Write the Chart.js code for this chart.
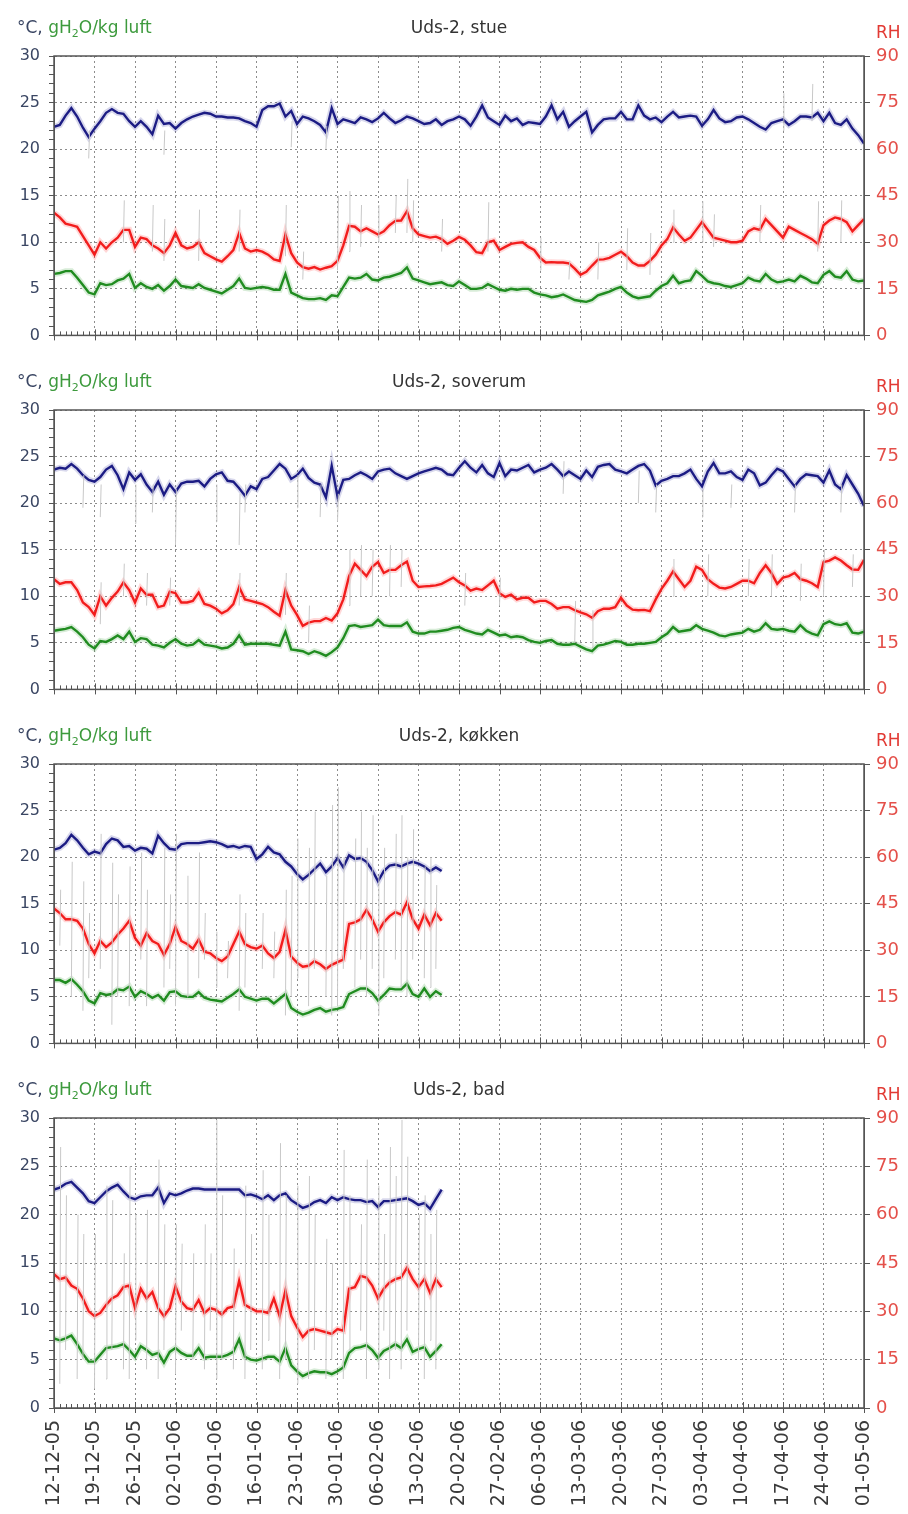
<!DOCTYPE html>
<html>
<head>
<meta charset="utf-8">
<script src="https://cdn.jsdelivr.net/npm/chart.js@4.4.1/dist/chart.umd.min.js"></script>
<style>
  body { margin: 0; background: #fff; }
  #wrap { position: relative; width: 908px; height: 1514px; }
  canvas { position: absolute; left: 0; }
</style>
</head>
<body>
<div id="wrap">
  <canvas id="c0" width="908" height="354" style="top:0px"></canvas>
  <canvas id="c1" width="908" height="354" style="top:354px"></canvas>
  <canvas id="c2" width="908" height="354" style="top:708px"></canvas>
  <canvas id="c3" width="908" height="452" style="top:1062px"></canvas>
</div>
<script>
// ugentlige datoer på x-aksen (dag 0 = 12-12-05, dag 140 = 01-05-06)
const datoer = ['12-12-05','19-12-05','26-12-05','02-01-06','09-01-06','16-01-06','23-01-06',
  '30-01-06','06-02-06','13-02-06','20-02-06','27-02-06','06-03-06','13-03-06','20-03-06',
  '27-03-06','03-04-06','10-04-06','17-04-06','24-04-06','01-05-06'];

// døgnværdier (udglattet) pr. rum: temperatur °C, RH %, vandindhold g/kg
const stueTemp = [22.4,22.6,23.6,24.4,23.5,22.3,21.3,22.2,23.0,23.9, 24.3,23.9,23.8,23.0,22.4,23.0,22.4,21.6,23.6,22.7,
  22.8,22.2,22.8,23.2,23.5,23.7,23.9,23.8,23.5,23.5, 23.4,23.4,23.3,23.0,22.8,22.4,24.2,24.6,24.6,24.9,
  23.5,24.1,22.7,23.5,23.3,23.0,22.6,21.8,24.4,22.7, 23.2,23.0,22.8,23.4,23.2,22.9,23.3,23.9,23.3,22.8,
  23.1,23.5,23.3,23.0,22.7,22.8,23.2,22.6,23.0,23.2, 23.5,23.2,22.5,23.5,24.7,23.4,23.0,22.6,23.6,23.0,
  23.3,22.6,22.9,22.8,22.7,23.5,24.7,23.2,24.0,22.4, 23.0,23.5,24.0,21.8,22.6,23.2,23.3,23.3,24.0,23.2,
  23.2,24.7,23.6,23.2,23.4,22.9,23.5,24.0,23.4,23.5, 23.6,23.5,22.5,23.2,24.2,23.3,22.9,23.0,23.4,23.5,
  23.2,22.8,22.4,22.1,22.8,23.0,23.2,22.6,23.0,23.5, 23.5,23.4,23.9,23.0,23.9,22.8,22.6,23.2,22.2,21.5,
  20.6];
const stueRH = [39.5,38,36,35.5,35,32,29,26,30,28, 30,31.5,34,34,28.5,31.5,31,29,28,26.5,
  29,33,29,28,28.5,30,26.5,25.5,24.5,23.8, 25.5,27.5,33,28,27,27.5,27,26,24.5,24,
  32.5,26.5,23.5,22,21.5,22,21.2,21.8,22.3,24, 29,35.3,35,33.5,34.5,33.5,32.5,33.5,35.5,36.9,
  37,40,34.5,32.5,32,31.5,31.8,31,29.5,30.5, 31.7,30.8,29,26.8,26.5,30,30.5,27.5,28.5,29.5,
  29.8,30,28.5,27.5,25,23.5,23.6,23.5,23.5,23.2, 21.5,19.5,20.5,22.5,24.4,24.5,25,26,27,25.5,
  23.5,22.5,22.5,24,26,29,31,34.8,32.5,30.5, 31.5,34,36.5,34,31.5,31,30.5,30,30,30.5,
  33.5,34.5,34,37.5,35.5,33.5,31.5,35,34,33, 32,31,29.5,35.5,37,38,37.5,36.5,33.5,35.5,
  37.5];
const stueAbs = [6.6,6.7,6.9,6.9,6.2,5.4,4.6,4.4,5.6,5.4, 5.5,5.9,6.1,6.6,5.1,5.6,5.2,5.0,5.4,4.8,
  5.3,6.0,5.3,5.2,5.1,5.5,5.1,4.9,4.7,4.5, 4.9,5.3,6.1,5.1,5.0,5.1,5.2,5.1,4.9,4.9,
  6.6,4.6,4.3,4.0,3.9,3.9,4.0,3.8,4.3,4.2, 5.2,6.2,6.1,6.2,6.6,6.0,5.9,6.2,6.3,6.5,
  6.7,7.3,6.1,5.9,5.7,5.5,5.6,5.7,5.4,5.3, 5.8,5.4,5.0,5.0,5.1,5.5,5.2,4.9,4.8,5.0,
  4.9,5.0,5.0,4.6,4.4,4.3,4.1,4.2,4.4,4.1, 3.8,3.7,3.6,3.8,4.3,4.5,4.7,5.0,5.2,4.6,
  4.2,4.0,4.1,4.2,4.8,5.3,5.6,6.4,5.6,5.8, 5.9,6.9,6.4,5.8,5.6,5.5,5.3,5.2,5.4,5.6,
  6.2,5.9,5.8,6.6,6.0,5.7,5.8,6.0,5.8,6.4, 6.1,5.7,5.6,6.5,6.9,6.3,6.2,6.9,6.0,5.8,
  5.9];
// rå timeværdier: enkelte udsving [dag, laveste, højeste] på venstre akse
const stueRaa = [[6,19,22],[12,10,14.5],[17,9,14],[19,19.4,22],[19,8,12.5],[25,8,13.5],[32,9,13.5],
  [40,8.5,14],[41,20.2,23],[43,6,9],[47,20,22.5],[49,7,15],[51,9,15.5],[53,9.5,14],[56,10,14],
  [59,11,15],[61,11,16.8],[62,10,14.5],[67,9,12.5],[75,9,14.3],[84,7,10.5],[89,6,8],[94,6,10],
  [99,7,11.5],[103,6.5,11],[107,10,13.5],[112,10,14.4],[114,9.5,13],[122,10,14],[126,22,26],
  [131,23,27],[132,9,14.4],[136,10,14.5]];

const soverumTemp = [23.6,23.8,23.7,24.2,23.7,23.0,22.5,22.3,22.8,23.6, 24.0,23.0,21.5,23.3,22.5,23.1,22.0,21.2,22.3,20.9,
  22.0,21.2,22.1,22.3,22.3,22.4,21.8,22.6,23.1,23.3, 22.4,22.3,21.6,20.8,21.8,21.5,22.6,22.8,23.5,24.2,
  23.7,22.6,23.0,23.7,22.7,22.2,22.0,20.6,24.0,20.7, 22.5,22.6,23.0,23.3,23.0,22.6,23.4,23.6,23.7,23.2,
  22.9,22.6,22.9,23.2,23.4,23.6,23.8,23.6,23.1,23.0, 23.8,24.5,23.8,23.3,24.1,23.2,22.8,24.3,22.9,23.6,
  23.5,23.8,24.1,23.3,23.6,23.8,24.2,23.6,22.9,23.4, 23.0,22.6,23.5,22.8,23.9,24.1,24.2,23.6,23.4,23.2,
  23.6,24.0,24.2,23.5,21.9,22.4,22.6,22.9,22.9,23.2, 23.6,22.6,21.8,23.4,24.3,23.2,23.2,23.4,22.8,22.5,
  23.6,23.2,21.9,22.2,23.0,23.7,23.4,22.6,21.8,22.6, 23.1,23.0,22.9,22.2,23.5,22.0,21.5,23.0,22.0,21.0,
  19.7];
const soverumRH = [35.5,34,34.5,34.5,32,28,26.5,24,30,27, 29.5,31.5,34.5,32,28,32.5,30.5,30.5,26.5,27,
  31.5,31,28,28,28.5,31.2,27.5,27,26,24.5, 25.5,27.5,33,29,28.5,28,27.5,26.5,25,23.7,
  32,27,24,20.5,21.5,22,22,23,22.2,24.5, 29,36.5,40.5,38.5,36.5,39.5,41,37.5,38.5,38.5,
  40,41.2,35,33,33.2,33.3,33.5,34,35,36, 34.5,33.5,31.8,32.5,32,33.5,35,31,29.8,30.5,
  29,29.5,29.5,28,28.5,28.5,27.5,26,26.5,26.5, 25.5,24.8,24.2,23.1,25.2,26,26,26.5,29.5,27,
  25.7,25.5,25.6,25.2,29,32.4,35,38,35.5,33, 35,39.5,38.5,35.5,34,32.8,32.5,33,34,35,
  35,34.2,37.5,40,37.5,34,36,36.5,37.5,35.5, 35,34.2,33,41,41.5,42.5,41.5,40,38.6,38.5,
  41.7];
const soverumAbs = [6.3,6.4,6.5,6.7,6.2,5.6,4.8,4.4,5.2,5.1, 5.4,5.8,5.4,6.2,5.1,5.5,5.4,4.8,4.7,4.5,
  5.0,5.4,4.9,4.7,4.8,5.3,4.8,4.7,4.6,4.4, 4.5,4.9,5.8,4.8,4.9,4.9,4.9,4.9,4.8,4.7,
  6.2,4.3,4.2,4.1,3.8,4.1,3.9,3.6,4.0,4.5, 5.5,6.8,6.9,6.7,6.8,6.9,7.5,6.9,6.8,6.8,
  6.8,7.2,6.2,6.0,6.0,6.2,6.2,6.3,6.4,6.6, 6.7,6.4,6.2,6.0,5.9,6.4,6.1,5.8,5.9,5.6,
  5.7,5.6,5.3,5.1,5.0,5.2,5.3,4.9,4.8,4.8, 4.9,4.6,4.3,4.1,4.7,4.8,5.0,5.2,5.1,4.8,
  4.8,4.9,4.9,5.0,5.1,5.6,6.0,6.7,6.2,6.3, 6.4,6.9,6.5,6.3,6.1,5.8,5.7,5.9,6.0,6.1,
  6.5,6.2,6.4,7.1,6.5,6.4,6.5,6.3,6.2,6.9, 6.3,6.0,5.8,7.0,7.3,7.0,6.9,7.1,6.1,6.0,
  6.2];
const soverumRaa = [[5,19.5,23],[8,18.5,22],[14,17.8,22],[17,19,22],[21,15.5,21.5],[28,18,22],
  [32,15.5,21],[33,19,22],[42,19.5,23],[46,18.5,22],[49,18,21],[8,7,11.5],[12,10,13.5],[16,9,12.5],
  [20,9,12],[32,9,12.5],[40,8,12.5],[44,5,9],[51,9,15],[53,10,15.5],[55,10,15],[58,10,15.5],
  [60,11,15],[71,9,12.5],[77,9,12],[88,21,24.5],[90,5,9.5],[93,4.5,8.5],[101,20,23.5],[104,19,22],
  [107,10,14],[112,18.5,21.5],[113,10,14.5],[117,19.5,22],[120,10,14],[124,10,14.5],[128,19,22],
  [129,9.5,13.5],[133,10,15],[136,19,22],[138,11,14.5],[140,15,20]];

const kokkenTemp = [20.8,21.0,21.5,22.4,21.8,21.0,20.3,20.6,20.4,21.4, 22.0,21.8,21.1,21.2,20.7,21.0,20.9,20.4,22.3,21.5,
  20.9,20.8,21.4,21.5,21.5,21.5,21.6,21.7,21.6,21.4, 21.1,21.2,21.0,21.2,21.1,19.8,20.3,21.1,20.5,20.3,
  19.5,19.0,18.2,17.6,18.1,18.7,19.3,18.4,19.0,19.9, 18.9,20.2,19.8,19.9,19.5,18.6,17.4,18.5,19.1,19.2,
  19.0,19.3,19.5,19.3,19.0,18.5,18.9,18.5];
const kokkenRH = [43.5,42,40,40,39.5,37,32,29,33,31, 32.5,35,37,39.5,34,31.5,35.5,33,32,28.5,
  32,37.5,33,32,30.5,33.5,29.5,29,27.5,26.5, 28,32,36,32,31,30.5,31.5,29,27.5,29.5,
  36.5,28,26,24.7,25,26.5,25.5,24,25.3,26.2, 27,38.5,39,40,43,40,36,39,41,42.3,
  41.5,45.5,40,37,41.5,38,42,39.5];
const kokkenAbs = [6.8,6.8,6.5,6.9,6.3,5.6,4.6,4.3,5.4,5.2, 5.3,5.8,5.7,6.1,5.0,5.6,5.3,4.9,5.2,4.6,
  5.5,5.6,5.1,5.0,5.0,5.5,4.9,4.7,4.6,4.5, 4.9,5.3,5.8,5.0,4.8,4.6,4.8,4.8,4.3,4.8,
  5.3,3.8,3.4,3.1,3.3,3.6,3.8,3.4,3.6,3.7, 3.9,5.3,5.6,5.9,5.9,5.4,4.6,5.2,5.9,5.8,
  5.8,6.4,5.3,5.0,5.9,5.0,5.6,5.2];
const kokkenRaa = [[1,10.5,16.5],[3,5,19.5],[5,3.5,17.4],[6,7,14],[8,8,22.5],[10,2,19.4],[11,5,16],
  [13,4,19],[15,9,20.5],[16,4,16.5],[19,6,21],[20,8,16],[21,4,22.5],[23,5,18],[25,7,20.5],[26,9,14],
  [28,6,12],[30,7,11],[32,3.5,16],[33,6,14],[36,8,14],[38,7,12],[40,3,16.5],[41,5,18],[42,7,22],
  [44,4,21],[45,8,24.9],[47,5,18],[48,3,25.6],[49,4,27.5],[50,8,20],[52,6,22],[53,9,24.9],[54,5,21],
  [55,8,24.5],[56,3,18],[57,7,21],[59,9,22.5],[60,6,24.5],[61,5,20],[62,9,23],[64,7,19],[65,6,20],
  [66,8,17]];

const badTemp = [22.6,22.8,23.2,23.4,22.8,22.2,21.4,21.2,21.8,22.4, 22.8,23.1,22.4,21.8,21.6,21.9,22.0,22.0,22.8,21.2,
  22.2,22.0,22.2,22.5,22.7,22.7,22.6,22.6,22.6,22.6, 22.6,22.6,22.6,22.0,22.1,21.9,21.6,22.0,21.5,22.0,
  22.2,21.5,21.1,20.7,20.9,21.3,21.5,21.2,21.8,21.5, 21.8,21.6,21.5,21.5,21.3,21.4,20.8,21.4,21.4,21.5,
  21.6,21.7,21.4,21.0,21.2,20.6,21.6,22.6];
const badRH = [41.5,40,40.5,38,37,34,30,28.5,29.5,32, 34,35,37.5,38,31,37,34,36,31,28.5,
  31,37.8,33,31,30.5,33.5,29.5,31,30.5,29, 31,31.5,39.5,32,31,30,30,29.5,34,28.5,
  36.5,28.5,25,22,24,24.5,24,23.5,23,24.5, 24,37,37.5,41,40.5,38,34,37,39,40,
  40.5,43.5,40,37.5,40,35.7,40,37.5];
const badAbs = [7.2,7.0,7.2,7.5,6.6,5.6,4.8,4.8,5.5,6.2, 6.3,6.4,6.6,6.0,5.3,6.4,6.0,5.5,5.7,4.7,
  5.8,6.2,5.7,5.4,5.4,6.2,5.2,5.3,5.3,5.3, 5.5,5.8,7.1,5.3,5.0,4.9,5.1,5.3,5.3,4.8,
  6.2,4.4,3.8,3.3,3.6,3.8,3.7,3.7,3.5,3.8, 4.2,5.7,6.2,6.3,6.5,6.0,5.2,5.9,6.2,6.6,
  6.2,7.1,5.8,6.1,6.3,5.3,5.9,6.6];
const badRaa = [[1,2.5,27],[2,6,22],[4,3,20],[5,5,18],[7,2,18],[9,3,23],[10,6,21.5],[12,4,16],
  [13,3,25],[14,7,20],[16,4,20.5],[18,3,25.7],[19,6,19],[21,3.5,19],[22,8,17],[24,5,16],[26,4,19],
  [27,8,16],[28,3,29.8],[29,5,22],[31,4,16.5],[33,3,23],[34,6,18],[36,4,24.6],[37,7,20],[39,3,27.4],
  [40,5,22],[42,2.5,23],[44,3,24],[45,6,20],[47,3,17.5],[48,5,15],[50,3,26.7],[51,6,22],[53,8,19],
  [54,3,25.7],[56,4,23],[57,8,18],[58,3,27],[59,6,24],[60,4,29.8],[61,8,26],[63,5,20],[64,3,22],
  [65,7,18],[66,4,20.5]];

const paneler = [
  { titel: 'Uds-2, stue',    temp: stueTemp,    rh: stueRH,    abs: stueAbs,    raa: stueRaa },
  { titel: 'Uds-2, soverum', temp: soverumTemp, rh: soverumRH, abs: soverumAbs, raa: soverumRaa },
  { titel: 'Uds-2, køkken',  temp: kokkenTemp,  rh: kokkenRH,  abs: kokkenAbs,  raa: kokkenRaa },
  { titel: 'Uds-2, bad',     temp: badTemp,     rh: badRH,     abs: badAbs,     raa: badRaa }
];

const FONT = 'DejaVu Sans';
const AKSE = '#555';
const GRID = '#8c8c8c';

function punkter(arr) {
  return arr.map((v, i) => ({ x: i, y: v }));
}

function linje(arr, farve, akse, bredde) {
  return {
    data: punkter(arr),
    borderColor: farve,
    borderWidth: bredde,
    yAxisID: akse,
    pointRadius: 0,
    tension: 0,
    fill: false
  };
}

// lodrette grå streger for rådata, adskilt af huller
function raalinjer(liste) {
  const data = [];
  liste.forEach(([d, lav, hoj]) => {
    data.push({ x: d, y: lav }, { x: d + 0.15, y: hoj }, { x: d + 0.15, y: null });
  });
  return {
    data: data,
    borderColor: '#c8c8c8',
    borderWidth: 1,
    yAxisID: 'y',
    pointRadius: 0,
    spanGaps: false,
    fill: false
  };
}

// ramme, små dagsstreger og overskrifter
const ramme = {
  id: 'ramme',
  afterDraw(chart, args, opts) {
    const { ctx, chartArea: a, scales } = chart;
    ctx.save();
    ctx.strokeStyle = AKSE;
    ctx.lineWidth = 1;
    for (let d = 0; d <= 140; d++) {
      const x = Math.round(scales.x.getPixelForValue(d)) + 0.5;
      const uge = d % 7 === 0;
      ctx.beginPath();
      ctx.moveTo(x, a.bottom - (uge ? 6 : 4));
      ctx.lineTo(x, a.bottom + (uge ? 5 : 0));
      ctx.stroke();
    }
    ctx.lineWidth = 1.5;
    ctx.strokeRect(a.left, a.top, a.right - a.left, a.bottom - a.top);

    const y0 = a.top - 23;
    ctx.textBaseline = 'alphabetic';
    ctx.textAlign = 'left';
    ctx.font = '17px "' + FONT + '"';
    let x = 17;
    ctx.fillStyle = '#3a4663';
    ctx.fillText('°C, ', x, y0);
    x += ctx.measureText('°C, ').width;
    ctx.fillStyle = '#3d9a3d';
    ctx.fillText('gH', x, y0);
    x += ctx.measureText('gH').width;
    ctx.font = '11px "' + FONT + '"';
    ctx.fillText('2', x, y0 + 4);
    x += ctx.measureText('2').width;
    ctx.font = '17px "' + FONT + '"';
    ctx.fillText('O/kg luft', x, y0);

    ctx.fillStyle = '#333';
    ctx.textAlign = 'center';
    ctx.fillText(opts.titel, (a.left + a.right) / 2, y0);

    ctx.fillStyle = '#e23a34';
    ctx.textAlign = 'left';
    ctx.fillText('RH', a.right + 12, a.top - 18);
    ctx.restore();
  }
};

paneler.forEach((p, k) => {
  const nederst = k === paneler.length - 1;
  const canvas = document.getElementById('c' + k);
  const H = canvas.height;

  new Chart(canvas, {
    type: 'line',
    data: {
      datasets: [
        raalinjer(p.raa),
        linje(p.rh,   'rgba(255,40,40,0.18)',  'y2', 6),
        linje(p.abs,  'rgba(40,150,40,0.18)',  'y',  6),
        linje(p.temp, 'rgba(40,40,150,0.18)',  'y',  6),
        linje(p.rh,   '#f01c1c', 'y2', 2.4),
        linje(p.abs,  '#1f8a1f', 'y',  2.4),
        linje(p.temp, '#1a1a80', 'y',  2.4)
      ]
    },
    options: {
      responsive: false,
      animation: false,
      devicePixelRatio: 1,
      layout: { padding: { top: 56, left: 0, right: 0, bottom: 0 } },
      plugins: {
        legend: { display: false },
        tooltip: { enabled: false },
        ramme: { titel: p.titel }
      },
      scales: {
        x: {
          type: 'linear',
          min: 0,
          max: 140,
          ticks: {
            stepSize: 1,
            autoSkip: false,
            display: nederst,
            minRotation: 90,
            maxRotation: 90,
            padding: 12,
            color: '#3a3a3a',
            font: { family: FONT, size: 19 },
            callback: v => (v % 7 === 0 ? datoer[v / 7] : '')
          },
          grid: {
            drawTicks: false,
            color: c => (c.tick && c.tick.value % 7 === 0 ? GRID : 'transparent')
          },
          border: { color: AKSE, dash: [2, 3] },
          afterFit: s => { s.height = H - 346; }
        },
        y: {
          position: 'left',
          min: 0,
          max: 30,
          ticks: {
            stepSize: 1,
            autoSkip: false,
            padding: 9,
            color: '#3a4663',
            font: { family: FONT, size: 16 },
            callback: v => (v % 5 === 0 ? v : '')
          },
          grid: {
            color: c => (c.tick && c.tick.value % 5 === 0 ? GRID : 'transparent'),
            tickColor: AKSE,
            tickLength: 5
          },
          border: { color: AKSE, dash: [2, 3] },
          afterFit: s => { s.width = 54; }
        },
        y2: {
          position: 'right',
          min: 0,
          max: 90,
          ticks: {
            stepSize: 15,
            padding: 6,
            color: '#e4504a',
            font: { family: FONT, size: 18 }
          },
          grid: { drawOnChartArea: false, tickColor: AKSE, tickLength: 6 },
          border: { color: AKSE },
          afterFit: s => { s.width = 44; }
        }
      }
    },
    plugins: [ramme]
  });
});
</script>
</body>
</html>
